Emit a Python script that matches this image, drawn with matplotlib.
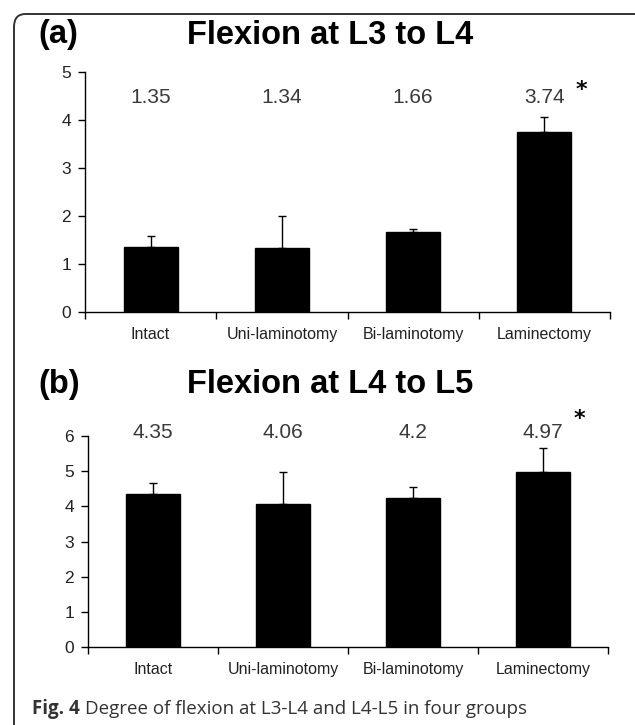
import matplotlib
matplotlib.use("Agg")
import matplotlib.pyplot as plt
from matplotlib.patches import FancyBboxPatch

groups = ["Intact", "Uni-laminotomy", "Bi-laminotomy", "Laminectomy"]

# (a) flexion L3-L4
means_a = [1.35, 1.34, 1.66, 3.74]
errs_a = [0.23, 0.66, 0.07, 0.32]
labels_a = ["1.35", "1.34", "1.66", "3.74"]

# (b) flexion L4-L5
means_b = [4.35, 4.06, 4.25, 4.97]
errs_b = [0.31, 0.91, 0.30, 0.68]
labels_b = ["4.35", "4.06", "4.2", "4.97"]

W, H = 635, 725
fig = plt.figure(figsize=(W / 100, H / 100), dpi=100)
fig.patch.set_facecolor("white")

# rounded frame around the figure (runs off the right and bottom)
frame = FancyBboxPatch((14 / W, -0.1), 1.2, 1 - 14 / H + 0.1,
                       boxstyle="round,pad=0,rounding_size=0.018",
                       transform=fig.transFigure, fill=False,
                       edgecolor="#333333", linewidth=1.4, clip_on=False)
fig.patches.append(frame)


def panel(rect, means, errs, labels, ymax, label_y, star_y):
    ax = fig.add_axes(rect)
    x = range(len(groups))
    ax.bar(x, means, width=0.41, color="black", edgecolor="black")
    ax.errorbar(x, means, yerr=[[0] * len(errs), errs], fmt="none",
                ecolor="black", elinewidth=1, capsize=3, capthick=1)
    for i, t in enumerate(labels):
        ax.text(i, label_y, t, ha="center", va="center", fontsize=15,
                color="#3a3a3a", family="Liberation Sans", clip_on=False)
    ax.text(3.28, star_y, "*", ha="center", va="center", fontsize=16,
            fontweight="bold", color="black", clip_on=False)
    ax.set_xlim(-0.5, 3.5)
    ax.set_ylim(0, ymax)
    ax.set_yticks(range(ymax + 1))
    ax.set_xticks(list(x))
    ax.set_xticklabels(groups, fontsize=11.5, family="Liberation Sans",
                       color="#222222")
    ax.set_xticks([-0.5, 0.5, 1.5, 2.5, 3.5], minor=True)
    ax.tick_params(axis="x", which="major", length=0, pad=11)
    ax.tick_params(axis="x", which="minor", length=5, direction="out",
                   width=1)
    ax.tick_params(axis="y", length=5, width=1, labelsize=12.5, pad=5,
                   labelcolor="#222222")
    for lab in ax.get_yticklabels():
        lab.set_family("Liberation Sans")
    for s in ["top", "right"]:
        ax.spines[s].set_visible(False)
    for s in ["left", "bottom"]:
        ax.spines[s].set_linewidth(1)
    return ax


panel([85 / W, 1 - 312 / H, 525 / W, 240 / H], means_a, errs_a, labels_a,
      5, 4.46, 4.62)
panel([88 / W, 1 - 647 / H, 520 / W, 211 / H], means_b, errs_b, labels_b,
      6, 6.1, 6.47)

title_kw = dict(fontsize=23.5, fontweight="bold", family="Liberation Sans",
                va="center", color="black")
fig.text(38 / W, 1 - 35 / H, "(a)", ha="left", **title_kw)
fig.text(330 / W, 1 - 35 / H, "Flexion at L3 to L4", ha="center", **title_kw)
fig.text(38 / W, 1 - 385 / H, "(b)", ha="left", **title_kw)
fig.text(330 / W, 1 - 385 / H, "Flexion at L4 to L5", ha="center", **title_kw)

cap = fig.text(32 / W, 1 - 709 / H, "Fig. 4", ha="left", va="center",
               fontsize=13.5, fontweight="bold", family="Open Sans",
               color="#333333")
fig.canvas.draw()
bb = cap.get_window_extent()
fig.text((bb.x1 + 5) / W, 1 - 709 / H,
         "Degree of flexion at L3-L4 and L4-L5 in four groups",
         ha="left", va="center", fontsize=13.5, family="Open Sans",
         color="#333333")

fig.savefig("out.png", dpi=100)
